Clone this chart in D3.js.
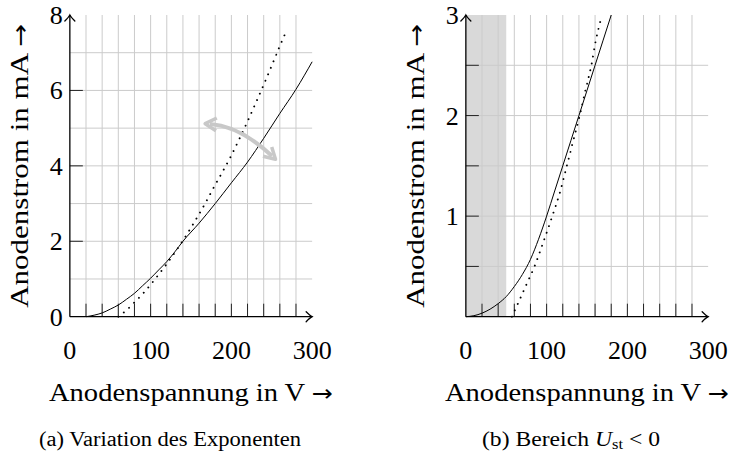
<!DOCTYPE html>
<html>
<head>
<meta charset="utf-8">
<script src="https://cdn.jsdelivr.net/npm/d3@7"></script>
<style>
  html, body { margin: 0; padding: 0; background: #fff; }
  svg { display: block; }
  text { font-family: "Liberation Serif", serif; fill: #000; }
  .arr { font-family: "DejaVu Sans", sans-serif; }
</style>
</head>
<body>
<svg id="chart" width="738" height="454"></svg>
<script>
// Anode current vs. anode voltage (U in V, I in mA)

// (a) Variation of the exponent
const aSolidU = [20, 30, 40, 50, 60, 70, 80, 90, 100, 110, 120, 130, 140, 160, 180, 200, 220, 240, 260, 280, 300];
const aSolidI = [0, 0.04, 0.1, 0.2, 0.31, 0.46, 0.62, 0.82, 1.02, 1.24, 1.46, 1.72, 2.0, 2.48, 3.0, 3.55, 4.1, 4.73, 5.39, 6.03, 6.76];
const aDotU = [60, 70, 80, 90, 100, 110, 120, 130, 140, 150, 160, 170, 180, 190, 200, 210, 220, 230, 240, 250, 260, 269];
const aDotI = [0, 0.17, 0.38, 0.6, 0.85, 1.12, 1.4, 1.7, 2.02, 2.36, 2.72, 3.1, 3.5, 3.88, 4.28, 4.72, 5.18, 5.66, 6.15, 6.66, 7.18, 7.62];

// (b) Region U_st < 0
const bSolidU = [0, 10, 20, 30, 40, 50, 60, 70, 80, 90, 100, 110, 120, 130, 140, 150, 160, 170, 180];
const bSolidI = [0, 0.01, 0.035, 0.075, 0.13, 0.2, 0.3, 0.42, 0.57, 0.77, 1.0, 1.25, 1.5, 1.75, 2.0, 2.25, 2.5, 2.75, 3.0];
const bDotU = [57, 65, 75, 85, 95, 107, 117, 125, 133, 141, 148, 155.4, 161, 167];
const bDotI = [0, 0.14, 0.32, 0.5, 0.72, 1.0, 1.25, 1.5, 1.75, 2.0, 2.25, 2.5, 2.75, 2.95];
const bShadeU = [0, 50];

// Axis ticks and labels
const xLabelTicks = [0, 100, 200, 300];
const xGridTicks = [20, 40, 60, 80, 100, 120, 140, 160, 180, 200, 220, 240, 260, 280];
const aYLabelTicks = [0, 2, 4, 6, 8];
const aYGrid = [1, 2, 3, 4, 5, 6, 7];
const aYTicks = [2, 4, 6];
const bYLabelTicks = [1, 2, 3];
const bYGrid = [0.5, 1, 1.5, 2, 2.5];
const bYTicks = [0.5, 1, 1.5, 2, 2.5];

const xTitle = "Anodenspannung in V";
const yTitle = "Anodenstrom in mA";
const ARROW = "\u2192";

const svg = d3.select("#chart");
const GRID = "#cbcbcb";

function zip(us, is) { return us.map((u, i) => [u, is[i]]); }

function titleText(sel, label, width) {
  sel.append("tspan").text(label + " ");
  sel.append("tspan").attr("class", "arr").attr("font-size", 23).text(ARROW);
  sel.attr("textLength", width).attr("lengthAdjust", "spacingAndGlyphs");
}

function panel(opt) {
  const g = svg.append("g");
  const x = d3.scaleLinear().domain([0, 300]).range([opt.x0, opt.x0 + 242.3]);
  const y = d3.scaleLinear().domain([0, opt.yMax]).range([316.7, 15]);
  const y0 = y(0), yTop = y(opt.yMax), xEnd = x(300);

  if (opt.shade) {
    g.append("rect")
      .attr("x", x(opt.shade[0])).attr("y", yTop)
      .attr("width", x(opt.shade[1]) - x(opt.shade[0]))
      .attr("height", y0 - yTop)
      .attr("fill", "#d9d9d9");
  }

  // grid
  g.selectAll(".vg").data(xGridTicks).join("line")
    .attr("x1", d => x(d)).attr("x2", d => x(d))
    .attr("y1", y0).attr("y2", yTop)
    .attr("stroke", GRID).attr("stroke-width", 1);
  g.selectAll(".hg").data(opt.yGrid).join("line")
    .attr("x1", x(0)).attr("x2", xEnd)
    .attr("y1", d => y(d)).attr("y2", d => y(d))
    .attr("stroke", GRID).attr("stroke-width", 1);

  // ticks
  g.selectAll(".xt").data(xGridTicks).join("line")
    .attr("x1", d => x(d)).attr("x2", d => x(d))
    .attr("y1", y0).attr("y2", y0 - 13)
    .attr("stroke", "#222").attr("stroke-width", 1);
  g.selectAll(".yt").data(opt.yTicks).join("line")
    .attr("x1", x(0)).attr("x2", x(0) + 13)
    .attr("y1", d => y(d)).attr("y2", d => y(d))
    .attr("stroke", "#222").attr("stroke-width", 1);

  // curves
  const line = d3.line().x(d => x(d[0])).y(d => y(d[1])).curve(d3.curveMonotoneX);
  g.append("path").attr("d", line(opt.solid))
    .attr("fill", "none").attr("stroke", "#000").attr("stroke-width", 1);
  g.append("path").attr("d", line(opt.dotted))
    .attr("fill", "none").attr("stroke", "#000").attr("stroke-width", 1.9)
    .attr("stroke-linecap", "round").attr("stroke-dasharray", "0.01 7");

  // axes with arrow tips
  const ax = g.append("g").attr("stroke", "#000").attr("stroke-width", 1.3).attr("fill", "none");
  ax.append("line").attr("x1", x(0)).attr("x2", xEnd).attr("y1", y0).attr("y2", y0);
  ax.append("line").attr("x1", x(0)).attr("x2", x(0)).attr("y1", y0).attr("y2", yTop);
  ax.append("path").attr("d", `M${xEnd - 6},${y0 - 5} Q${xEnd - 2},${y0 - 1} ${xEnd},${y0} Q${xEnd - 2},${y0 + 1} ${xEnd - 6},${y0 + 5}`)
    .attr("stroke-linecap", "round");
  ax.append("path").attr("d", `M${x(0) - 5},${yTop + 6} Q${x(0) - 1},${yTop + 2} ${x(0)},${yTop} Q${x(0) + 1},${yTop + 2} ${x(0) + 5},${yTop + 6}`)
    .attr("stroke-linecap", "round");

  // tick labels
  g.selectAll(".xl").data(xLabelTicks).join("text")
    .attr("x", d => x(d)).attr("y", 359)
    .attr("text-anchor", "middle").attr("font-size", 26)
    .text(d => d);
  g.selectAll(".yl").data(opt.yLabels).join("text")
    .attr("x", x(0) - 7).attr("y", d => y(d) + 9)
    .attr("text-anchor", "end").attr("font-size", 26)
    .text(d => d);

  // titles
  const xt = g.append("text").attr("x", (x(0) + xEnd) / 2).attr("y", 401)
    .attr("text-anchor", "middle").attr("font-size", 26);
  titleText(xt, xTitle, 284);
  const yt = g.append("text")
    .attr("transform", `translate(${x(0) - 42},${(y0 + yTop) / 2}) rotate(-90)`)
    .attr("text-anchor", "middle").attr("font-size", 26);
  titleText(yt, yTitle, 284);

  return { g, x, y };
}

// panel (a)
const pa = panel({
  x0: 69.85, yMax: 8, yGrid: aYGrid, yTicks: aYTicks, yLabels: aYLabelTicks,
  solid: zip(aSolidU, aSolidI), dotted: zip(aDotU, aDotI)
});

// curved double arrow showing the exponent variation
svg.append("defs").append("marker")
  .attr("id", "gh").attr("viewBox", "0 0 10 10").attr("refX", 5).attr("refY", 5)
  .attr("markerWidth", 4).attr("markerHeight", 4).attr("orient", "auto-start-reverse")
  .append("path").attr("d", "M1,1 L8,5 L1,9").attr("fill", "none")
  .attr("stroke", "#c8c8c8").attr("stroke-width", 2.2).attr("stroke-linejoin", "round");
const sx = 210, sy = 124, ex = 272, ey = 156, cx = 240, cy = 126;
pa.g.append("path")
  .attr("d", `M${sx},${sy} Q${cx},${cy} ${ex},${ey}`)
  .attr("fill", "none").attr("stroke", "#c8c8c8").attr("stroke-width", 4)
  .attr("marker-start", "url(#gh)").attr("marker-end", "url(#gh)");

// panel (b)
panel({
  x0: 465.85, yMax: 3, yGrid: bYGrid, yTicks: bYTicks, yLabels: bYLabelTicks,
  solid: zip(bSolidU, bSolidI), dotted: zip(bDotU, bDotI), shade: bShadeU
});

// sub-captions
svg.append("text").attr("x", 170).attr("y", 446).attr("text-anchor", "middle")
  .attr("font-size", 20).attr("textLength", 262).attr("lengthAdjust", "spacingAndGlyphs")
  .text("(a) Variation des Exponenten");
const cap = svg.append("text").attr("x", 571).attr("y", 446).attr("text-anchor", "middle")
  .attr("font-size", 20).attr("textLength", 178).attr("lengthAdjust", "spacingAndGlyphs");
cap.append("tspan").text("(b) Bereich ");
cap.append("tspan").attr("font-style", "italic").text("U");
cap.append("tspan").attr("font-size", 14).attr("dy", 3).text("st");
cap.append("tspan").attr("dy", -3).text(" < 0");
</script>
</body>
</html>
